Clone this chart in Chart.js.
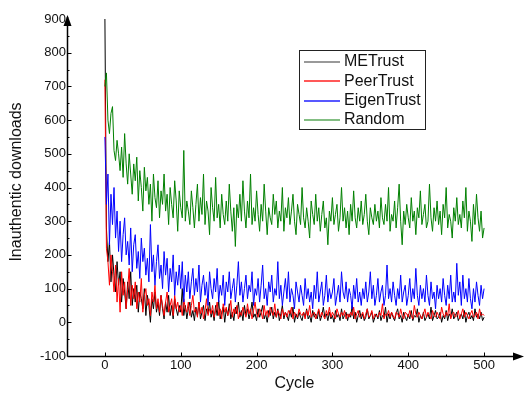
<!DOCTYPE html>
<html>
<head>
<meta charset="utf-8">
<script src="https://cdn.jsdelivr.net/npm/chart.js@4/dist/chart.umd.min.js"></script>
<style>
  body { margin: 0; background: #fff; }
  #wrap { width: 524px; height: 394px; }
</style>
</head>
<body>
<div id="wrap"><canvas id="c" width="524" height="394"></canvas></div>
<script>
// cycles (every 2nd cycle)
const cycles = [
  0,2,4,6,8,10,12,14,16,18,20,22,24,26,28,30,32,34,36,38,
  40,42,44,46,48,50,52,54,56,58,60,62,64,66,68,70,72,74,76,78,
  80,82,84,86,88,90,92,94,96,98,100,102,104,106,108,110,112,114,116,118,
  120,122,124,126,128,130,132,134,136,138,140,142,144,146,148,150,152,154,156,158,
  160,162,164,166,168,170,172,174,176,178,180,182,184,186,188,190,192,194,196,198,
  200,202,204,206,208,210,212,214,216,218,220,222,224,226,228,230,232,234,236,238,
  240,242,244,246,248,250,252,254,256,258,260,262,264,266,268,270,272,274,276,278,
  280,282,284,286,288,290,292,294,296,298,300,302,304,306,308,310,312,314,316,318,
  320,322,324,326,328,330,332,334,336,338,340,342,344,346,348,350,352,354,356,358,
  360,362,364,366,368,370,372,374,376,378,380,382,384,386,388,390,392,394,396,398,
  400,402,404,406,408,410,412,414,416,418,420,422,424,426,428,430,432,434,436,438,
  440,442,444,446,448,450,452,454,456,458,460,462,464,466,468,470,472,474,476,478,
  480,482,484,486,488,490,492,494,496,498,500
];

const meTrust = [
  900,280,180,240,120,200,140,90,180,110, 150,60,130,90,40,120,70,150,50,100,
  60,110,30,90,70,40,100,20,80,50, 0,70,40,90,30,60,20,80,40,10,
  60,30,80,20,50,10,70,40,20,50, 30,100,20,50,10,40,60,15,35,5,
  45,20,60,10,30,50,5,40,25,60, 15,35,5,50,20,65,10,30,45,0,
  40,20,55,10,30,5,45,25,60,15, 35,5,50,20,40,10,30,60,15,25,
  5,40,15,30,50,10,25,0,35,20, 45,10,30,15,40,5,25,50,10,30,
  20,5,35,15,45,0,25,10,30,15, 5,30,15,40,10,20,0,35,15,25,
  10,35,5,20,45,15,25,5,30,10, 20,0,35,15,25,5,40,10,20,30,
  5,25,15,50,10,30,0,20,35,10, 25,5,15,40,10,20,30,0,15,25,
  10,35,5,20,15,45,0,25,10,30, 15,5,25,40,10,20,0,30,15,5,
  25,10,35,5,20,15,40,0,20,10, 30,5,15,25,10,45,5,20,35,10,
  15,30,0,20,10,35,5,25,15,40, 10,20,30,5,15,25,10,35,0,20,
  30,10,20,5,40,15,25,10,30,5, 15
];

const peerTrust = [
  720,220,180,110,200,150,90,170,60,130, 30,150,80,120,40,100,160,50,110,70,
  120,40,90,60,130,30,80,100,50,70, 20,90,60,110,40,70,30,80,50,20,
  60,90,30,50,70,20,80,40,60,30, 50,20,70,40,30,60,20,50,80,30,
  40,15,60,25,45,10,35,70,20,40, 25,50,15,35,60,20,40,10,55,30,
  45,20,35,65,15,40,25,50,10,30, 20,45,30,15,55,25,40,10,35,60,
  25,15,40,30,10,50,20,35,15,45, 30,20,55,15,35,25,10,40,20,30,
  15,35,25,45,10,30,20,15,40,25, 20,30,10,35,20,50,15,25,30,10,
  25,40,15,30,20,10,35,20,45,15, 30,20,10,40,25,15,30,20,35,10,
  25,15,30,20,45,10,25,35,15,20, 30,10,25,40,15,20,35,10,25,20,
  15,30,20,55,10,25,20,35,15,30, 20,10,30,25,15,40,20,10,30,25,
  15,35,20,10,50,25,15,30,20,10, 25,40,15,30,20,10,35,20,15,30,
  20,10,45,25,15,30,20,55,10,25, 30,15,20,35,10,25,40,15,30,20,
  10,25,35,15,20,30,10,40,20,25, 20
];

const eigenTrust = [
  550,350,440,230,380,290,400,250,330,210, 300,180,260,310,200,240,170,280,150,230,
  260,160,210,130,250,180,220,140,190,120, 290,150,200,110,180,230,130,170,100,210,
  140,190,90,160,120,200,80,150,110,170, 100,180,60,140,90,150,70,120,160,80,
  130,90,170,60,110,140,80,120,50,150, 100,70,130,90,160,60,110,80,140,50,
  120,90,150,70,100,130,60,110,180,80, 120,60,100,140,70,110,90,150,50,100,
  80,130,60,110,170,70,100,50,120,90, 140,60,100,80,180,70,110,50,90,130,
  70,150,60,100,80,40,120,90,60,110, 80,50,130,70,100,60,90,40,110,70,
  150,60,90,120,50,80,140,60,100,70, 90,130,50,80,110,60,150,90,70,120,
  60,100,80,40,110,70,130,60,90,50, 100,70,120,60,90,150,70,110,50,80,
  130,60,90,110,50,80,170,70,100,60, 120,80,50,100,70,140,60,90,110,50,
  80,130,60,100,70,160,80,50,110,70, 100,60,140,80,50,120,70,90,40,110,
  70,100,60,130,80,50,110,70,140,60, 90,60,175,80,120,50,140,70,100,60,
  130,70,40,100,60,120,80,50,110,70, 100
];

const randomTrust = [
  700,740,600,560,620,640,510,480,540,500, 450,520,430,560,470,410,500,440,380,470,
  420,490,360,450,400,330,460,390,430,350, 410,300,440,370,340,420,310,390,350,440,
  330,380,290,400,350,310,420,360,270,390, 340,310,510,300,360,330,290,390,340,280,
  350,410,300,370,320,440,290,360,330,260, 400,340,300,430,310,350,280,380,320,290,
  360,300,410,330,270,340,225,350,310,380, 300,420,330,280,360,310,440,290,340,300,
  390,320,270,350,300,410,330,260,340,310, 290,380,320,360,280,330,300,400,270,340,
  310,370,290,330,380,300,260,350,320,290, 400,310,280,340,300,250,360,320,290,380,
  300,340,270,320,360,280,310,230,330,300, 370,290,320,350,270,310,400,300,340,280,
  330,260,350,300,390,310,280,340,300,360, 290,320,380,300,260,340,310,290,350,300,
  330,280,370,310,290,350,300,400,270,320, 300,360,280,340,410,300,230,330,290,350,
  310,280,370,300,330,260,340,310,390,290, 320,350,280,300,410,310,270,340,300,360,
  290,330,260,350,310,400,280,320,300,250, 340,300,370,290,320,280,360,310,400,270,
  330,300,240,350,290,380,310,270,330,250, 280
];

const seriesNames = ["METrust", "PeerTrust", "EigenTrust", "Random"];
const seriesColors = ["#000000", "#ff0000", "#0000ff", "#008000"];
const legendColors = ["#777777", "#ff2020", "#2020ff", "#5aa85a"];
const seriesValues = [meTrust, peerTrust, eigenTrust, randomTrust];

const xTicks = [0, 100, 200, 300, 400, 500];
const yTicks = [-100, 0, 100, 200, 300, 400, 500, 600, 700, 800, 900];

const FONT = "'Liberation Sans', Arial, sans-serif";

// axes with arrows, inward ticks, titles and boxed legend
const decor = {
  id: "decor",
  afterDraw(chart) {
    const ctx = chart.ctx;
    const a = chart.chartArea;
    const xs = chart.scales.x, ys = chart.scales.y;
    const L = Math.round(a.left) + 0.5, B = Math.round(a.bottom) + 0.5;
    ctx.save();
    ctx.strokeStyle = "#000";
    ctx.fillStyle = "#000";
    ctx.lineWidth = 1.5;
    ctx.beginPath();
    ctx.moveTo(L, B);
    ctx.lineTo(L, a.top - 2);
    ctx.moveTo(L, B);
    ctx.lineTo(a.right - 4, B);
    ctx.stroke();
    // arrow heads
    ctx.beginPath();
    ctx.moveTo(L, a.top - 4);
    ctx.lineTo(L - 4, a.top + 7);
    ctx.lineTo(L + 4, a.top + 7);
    ctx.closePath();
    ctx.fill();
    ctx.beginPath();
    ctx.moveTo(a.right + 2, B);
    ctx.lineTo(a.right - 9, B - 4);
    ctx.lineTo(a.right - 9, B + 4);
    ctx.closePath();
    ctx.fill();
    // ticks
    ctx.lineWidth = 1;
    ctx.beginPath();
    for (let v = -100; v <= 850; v += 50) {
      const y = Math.round(ys.getPixelForValue(v)) + 0.5;
      const len = v % 100 === 0 ? 4 : 2;
      ctx.moveTo(L, y);
      ctx.lineTo(L + len, y);
    }
    for (let v = 0; v <= 500; v += 50) {
      const x = Math.round(xs.getPixelForValue(v)) + 0.5;
      const len = v % 100 === 0 ? 4 : 2;
      ctx.moveTo(x, B);
      ctx.lineTo(x, B - len);
    }
    ctx.stroke();

    // titles
    ctx.fillStyle = "#111";
    ctx.font = "16px " + FONT;
    ctx.textAlign = "center";
    ctx.textBaseline = "middle";
    ctx.fillText("Cycle", (a.left + a.right) / 2, 384);
    ctx.save();
    ctx.translate(17, 182);
    ctx.rotate(-Math.PI / 2);
    ctx.fillText("Inauthentic downloads", 0, 0);
    ctx.restore();

    // legend
    const bx = 299.5, by = 50.5, bw = 126, bh = 79;
    ctx.fillStyle = "#fff";
    ctx.fillRect(bx, by, bw, bh);
    ctx.strokeStyle = "#222";
    ctx.lineWidth = 1;
    ctx.strokeRect(bx, by, bw, bh);
    ctx.textAlign = "left";
    ctx.font = "16px " + FONT;
    seriesNames.forEach((name, i) => {
      const y = 62 + i * 19.3;
      ctx.strokeStyle = legendColors[i];
      ctx.lineWidth = 1.5;
      ctx.beginPath();
      ctx.moveTo(304, Math.round(y));
      ctx.lineTo(340, Math.round(y));
      ctx.stroke();
      ctx.fillStyle = "#111";
      ctx.fillText(name, 344, y);
    });
    ctx.restore();
  }
};

new Chart(document.getElementById("c").getContext("2d"), {
  type: "line",
  data: {
    datasets: seriesNames.map((name, i) => ({
      label: name,
      data: cycles.map((c, j) => ({ x: c, y: seriesValues[i][j] })),
      borderColor: seriesColors[i],
      borderWidth: 1,
      pointRadius: 0,
      tension: 0,
      fill: false,
      order: 4 - i
    }))
  },
  options: {
    responsive: false,
    animation: false,
    layout: { padding: { top: 19, right: 2, left: 0, bottom: 0 } },
    plugins: {
      legend: { display: false },
      tooltip: { enabled: false }
    },
    scales: {
      x: {
        type: "linear",
        min: -50,
        max: 550,
        afterBuildTicks: (s) => { s.ticks = xTicks.map(v => ({ value: v })); },
        afterFit: (s) => { s.height = 38; },
        grid: { display: false, drawTicks: false },
        border: { display: false },
        ticks: {
          color: "#111",
          padding: 2,
          maxRotation: 0,
          font: { family: FONT, size: 13 }
        }
      },
      y: {
        min: -100,
        max: 900,
        afterBuildTicks: (s) => { s.ticks = yTicks.map(v => ({ value: v })); },
        afterFit: (s) => { s.width = 67; },
        grid: { display: false, drawTicks: false },
        border: { display: false },
        ticks: {
          color: "#111",
          padding: 1,
          font: { family: FONT, size: 13 }
        }
      }
    }
  },
  plugins: [decor]
});
</script>
</body>
</html>
